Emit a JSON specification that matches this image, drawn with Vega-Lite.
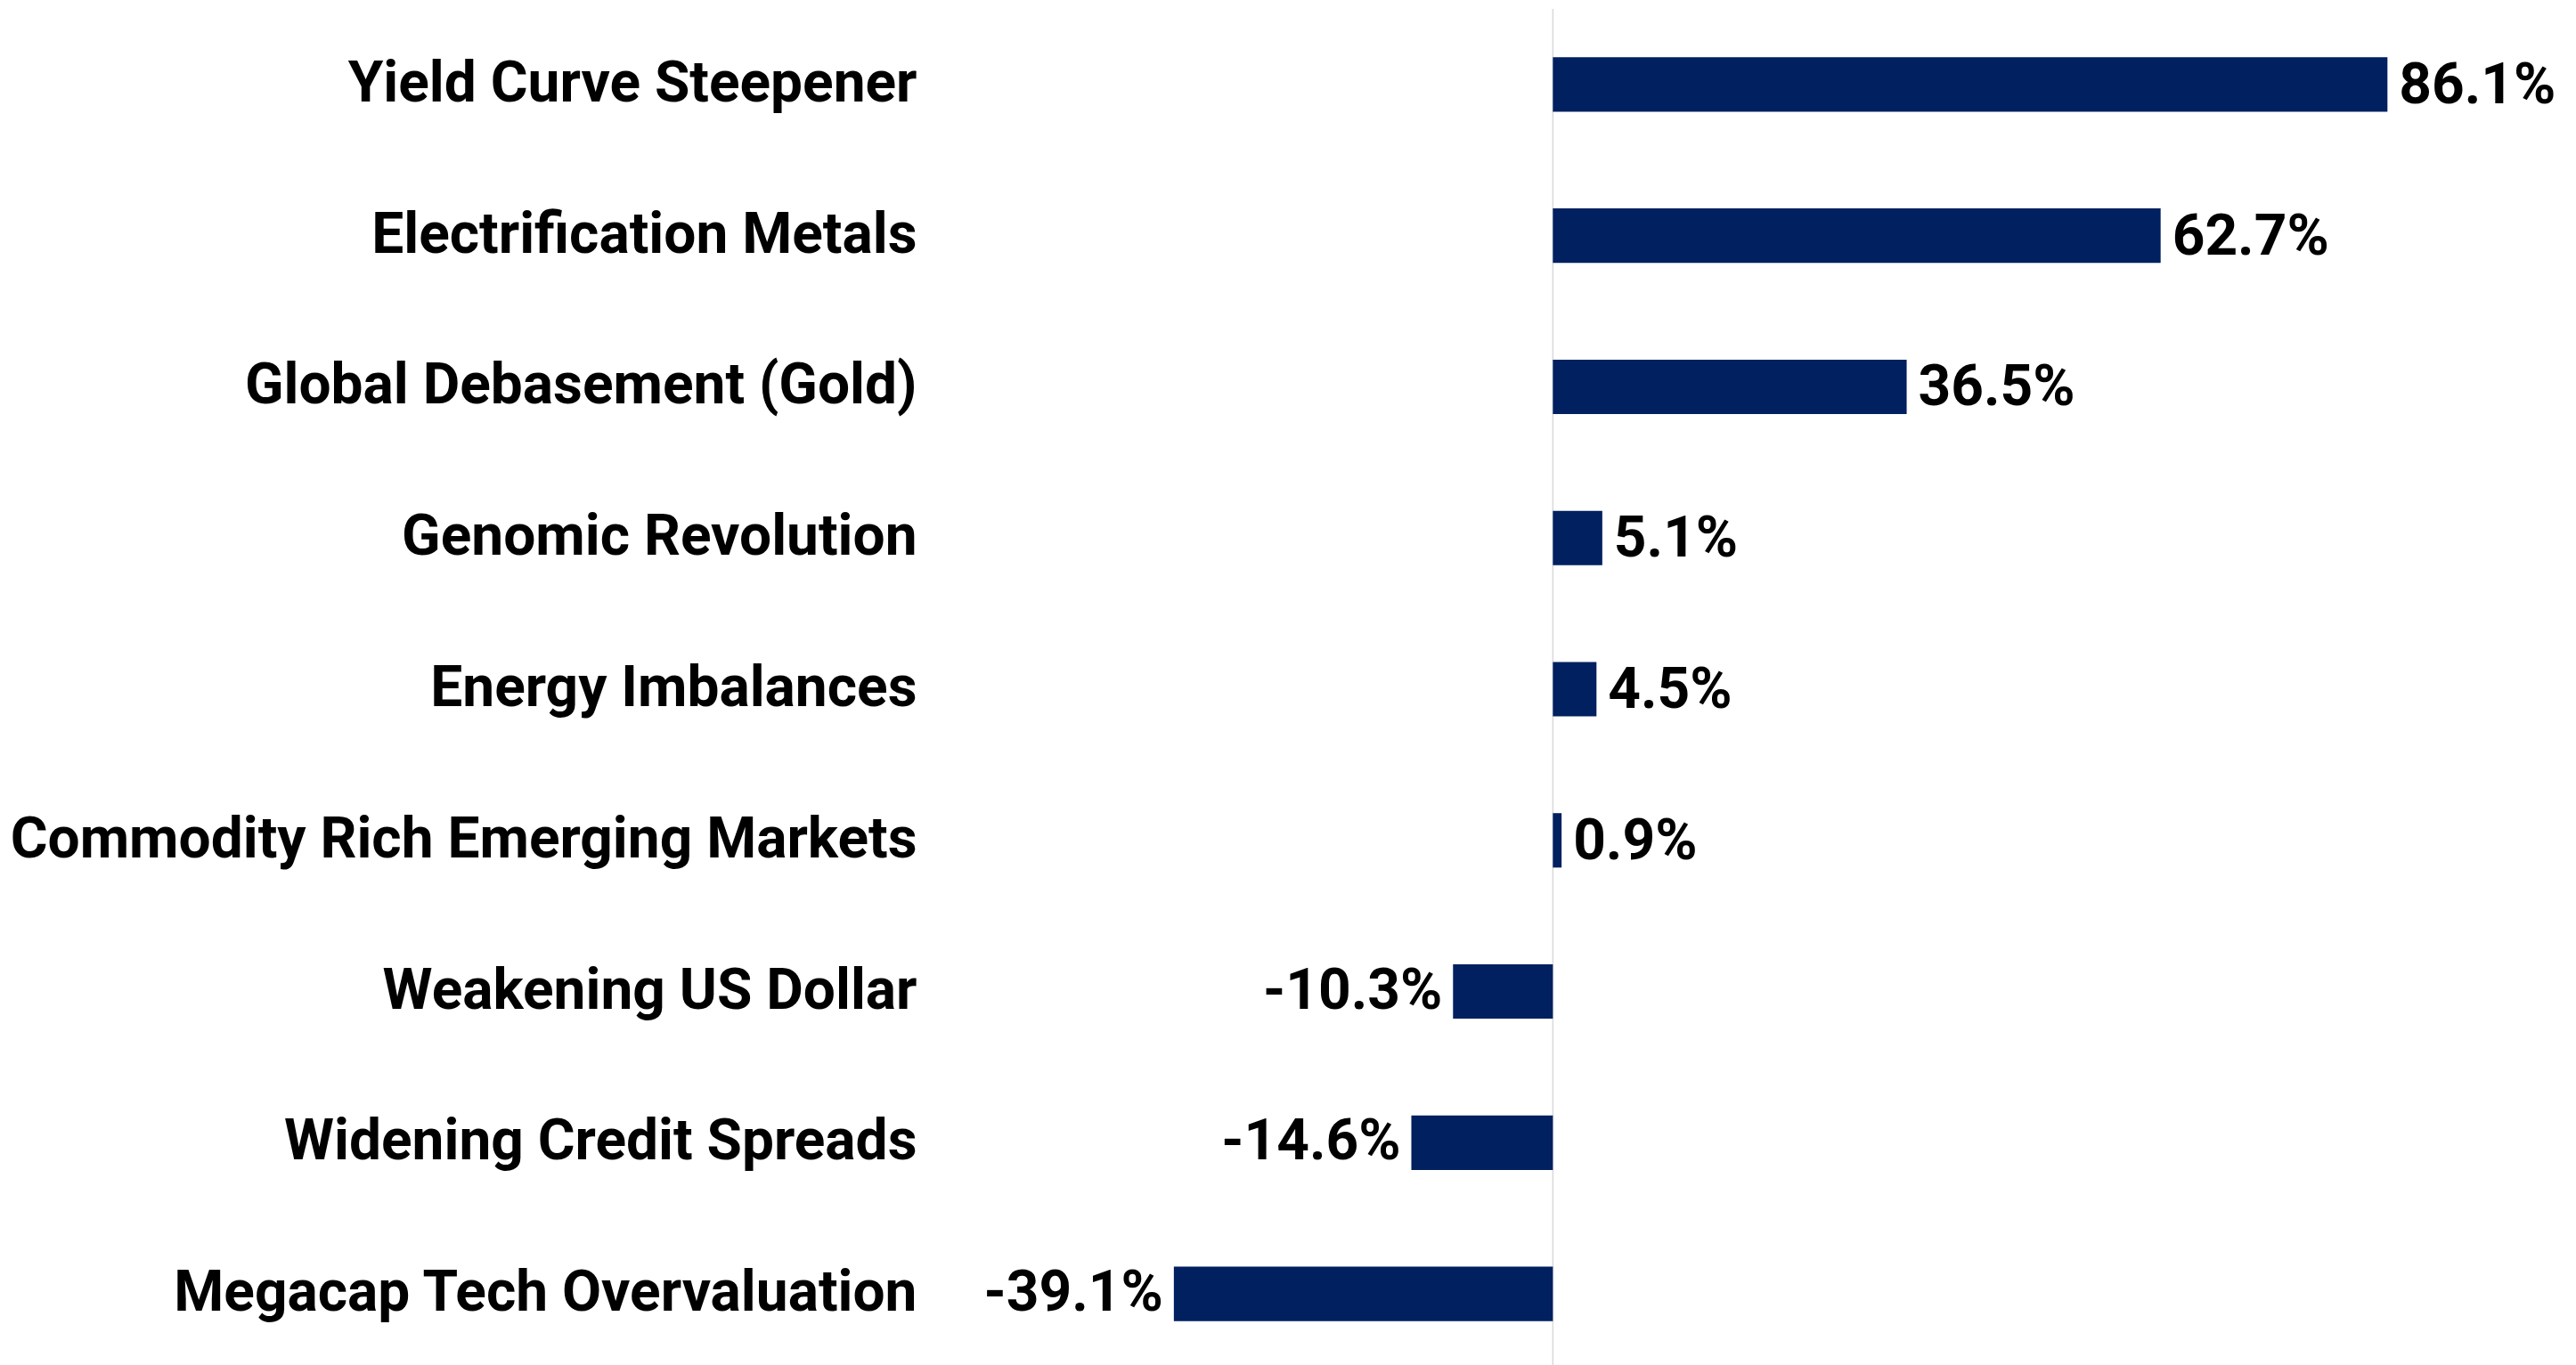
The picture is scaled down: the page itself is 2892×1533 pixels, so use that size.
{
  "$schema": "https://vega.github.io/schema/vega-lite/v6.json",
  "autosize": {"type": "none"},
  "padding": {"left": 1036, "top": 10, "right": 0, "bottom": 0},
  "width": 1850,
  "height": 1528,
  "background": "#ffffff",
  "config": {
    "view": {"stroke": null},
    "font": "Roboto",
    "locale": {"number": {"decimal": ".", "thousands": ",", "grouping": [3], "currency": ["$", ""], "minus": "-"}}
  },
  "data": {
    "values": [
      {"theme": "Yield Curve Steepener", "value": 0.861},
      {"theme": "Electrification Metals", "value": 0.627},
      {"theme": "Global Debasement (Gold)", "value": 0.365},
      {"theme": "Genomic Revolution", "value": 0.051},
      {"theme": "Energy Imbalances", "value": 0.045},
      {"theme": "Commodity Rich Emerging Markets", "value": 0.009},
      {"theme": "Weakening US Dollar", "value": -0.103},
      {"theme": "Widening Credit Spreads", "value": -0.146},
      {"theme": "Megacap Tech Overvaluation", "value": -0.391}
    ]
  },
  "encoding": {
    "y": {
      "field": "theme",
      "type": "nominal",
      "sort": null,
      "scale": {"paddingInner": 0.64, "paddingOuter": 0.32},
      "axis": {
        "title": null,
        "domain": false,
        "ticks": false,
        "grid": false,
        "labelPadding": 7,
        "labelFont": "Roboto",
        "labelFontWeight": "bold",
        "labelFontSize": 64,
        "labelColor": "#000000",
        "labelLimit": 0
      }
    }
  },
  "layer": [
    {
      "mark": {"type": "rule", "color": "#d9d9d9", "strokeWidth": 1.5},
      "data": {"values": [{"zero": 0}]},
      "encoding": {
        "y": null,
        "x": {"field": "zero", "type": "quantitative", "scale": {"domain": [-0.65, 1.05], "nice": false, "zero": false}, "axis": null}
      }
    },
    {
      "mark": {"type": "bar", "color": "#002060"},
      "encoding": {
        "x": {"field": "value", "type": "quantitative", "scale": {"domain": [-0.65, 1.05], "nice": false, "zero": false}, "axis": null}
      }
    },
    {
      "transform": [{"filter": "datum.value >= 0"}],
      "mark": {"type": "text", "align": "left", "baseline": "middle", "dx": 13, "dy": 2, "font": "Roboto", "fontWeight": "bold", "fontSize": 64, "color": "#000000"},
      "encoding": {
        "x": {"field": "value", "type": "quantitative"},
        "text": {"field": "value", "type": "quantitative", "format": ".1%"}
      }
    },
    {
      "transform": [{"filter": "datum.value < 0"}],
      "mark": {"type": "text", "align": "right", "baseline": "middle", "dx": -12, "font": "Roboto", "fontWeight": "bold", "fontSize": 64, "color": "#000000"},
      "encoding": {
        "x": {"field": "value", "type": "quantitative"},
        "text": {"field": "value", "type": "quantitative", "format": ".1%"}
      }
    }
  ]
}
